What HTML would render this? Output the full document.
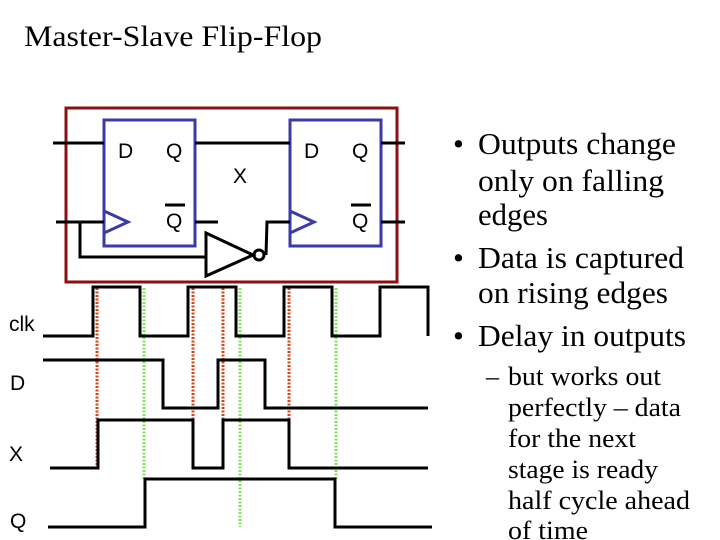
<!DOCTYPE html>
<html><head><meta charset="utf-8"><style>body{margin:0;background:#fff}svg{display:block}</style></head><body>
<svg width="720" height="540" xmlns="http://www.w3.org/2000/svg">
<text x="24" y="46" font-family="Liberation Serif, serif" font-size="30" textLength="298" lengthAdjust="spacingAndGlyphs">Master-Slave Flip-Flop</text>
<g fill="none" stroke-linecap="butt">
<rect x="66" y="108" width="331" height="174" stroke="#8b1010" stroke-width="3"/>
<rect x="104" y="120" width="91" height="126" stroke="#3a3aa8" stroke-width="3"/>
<rect x="290" y="120" width="91" height="126" stroke="#3a3aa8" stroke-width="3"/>
<polyline points="104,211 128,222 104,233" stroke="#3a3aa8" stroke-width="3"/>
<polyline points="290,211 314,222 290,233" stroke="#3a3aa8" stroke-width="3"/>
<g stroke="#000" stroke-width="3">
<line x1="53" y1="143" x2="104" y2="143"/>
<line x1="195" y1="143" x2="290" y2="143"/>
<line x1="381" y1="143" x2="405" y2="143"/>
<line x1="56" y1="222" x2="104" y2="222"/>
<polyline points="80,222 80,257 206,257"/>
<line x1="195" y1="222" x2="218" y2="222"/>
<line x1="381" y1="222" x2="405" y2="222"/>
<polygon points="206,233 206,276 253,255"/>
<circle cx="259" cy="255" r="5"/>
<polyline points="266,255 267,222 290,222"/>
<line x1="165" y1="205" x2="185" y2="205"/>
<line x1="351" y1="205" x2="371" y2="205"/>
</g>
<g stroke="#d04818" stroke-width="3" stroke-dasharray="2,1.5">
<line x1="97" y1="288" x2="97" y2="468"/>
<line x1="193" y1="288" x2="193" y2="468"/>
<line x1="223" y1="288" x2="223" y2="468"/>
<line x1="289" y1="288" x2="289" y2="468"/>
</g>
<g stroke="#88e060" stroke-width="3" stroke-dasharray="2,1.5">
<line x1="144" y1="288" x2="144" y2="479"/>
<line x1="240" y1="288" x2="240" y2="527"/>
<line x1="336" y1="288" x2="336" y2="479"/>
</g>
<g stroke="#000" stroke-width="3">
<polyline points="43,336 93,336 93,287 140,287 140,336 188,336 188,287 236,287 236,336 284,336 284,287 332,287 332,336 380,336 380,287 428,287 428,336"/>
<polyline points="43,360 163,360 163,408 218,408 218,360 265,360 265,408 428,408"/>
<polyline points="50,468 98,468 98,420 193,420 193,468 223,468 223,420 289,420 289,468 428,468"/>
<polyline points="48,527 145,527 145,479 335,479 335,527 432,527"/>
</g>
</g>
<g font-family="Liberation Sans, sans-serif" font-size="21" fill="#000">
<text x="118" y="158">D</text><text x="166" y="158">Q</text><text x="166" y="228">Q</text>
<text x="304" y="158">D</text><text x="352" y="158">Q</text><text x="352" y="228">Q</text>
<text x="233" y="183">X</text>
<text x="9" y="331">clk</text><text x="10" y="390">D</text><text x="9" y="461">X</text><text x="10" y="528">Q</text>
</g>
<g font-family="Liberation Serif, serif" font-size="31" fill="#000" lengthAdjust="spacingAndGlyphs">
<text x="453" y="154">•</text><text x="478" y="154" textLength="198" lengthAdjust="spacingAndGlyphs">Outputs change</text>
<text x="478" y="191" textLength="186" lengthAdjust="spacingAndGlyphs">only on falling</text>
<text x="478" y="225" textLength="70" lengthAdjust="spacingAndGlyphs">edges</text>
<text x="453" y="268">•</text><text x="478" y="268" textLength="206" lengthAdjust="spacingAndGlyphs">Data is captured</text>
<text x="478" y="303" textLength="190" lengthAdjust="spacingAndGlyphs">on rising edges</text>
<text x="453" y="346">•</text><text x="478" y="346" textLength="208" lengthAdjust="spacingAndGlyphs">Delay in outputs</text>
</g>
<g font-family="Liberation Serif, serif" font-size="26" fill="#000">
<text x="486" y="385">–</text><text x="508" y="385" textLength="153" lengthAdjust="spacingAndGlyphs">but works out</text>
<text x="508" y="416" textLength="173" lengthAdjust="spacingAndGlyphs">perfectly – data</text>
<text x="508" y="447" textLength="128" lengthAdjust="spacingAndGlyphs">for the next</text>
<text x="508" y="478" textLength="150" lengthAdjust="spacingAndGlyphs">stage is ready</text>
<text x="508" y="509" textLength="182" lengthAdjust="spacingAndGlyphs">half cycle ahead</text>
<text x="508" y="539" textLength="80" lengthAdjust="spacingAndGlyphs">of time</text>
</g>
</svg>
</body></html>
